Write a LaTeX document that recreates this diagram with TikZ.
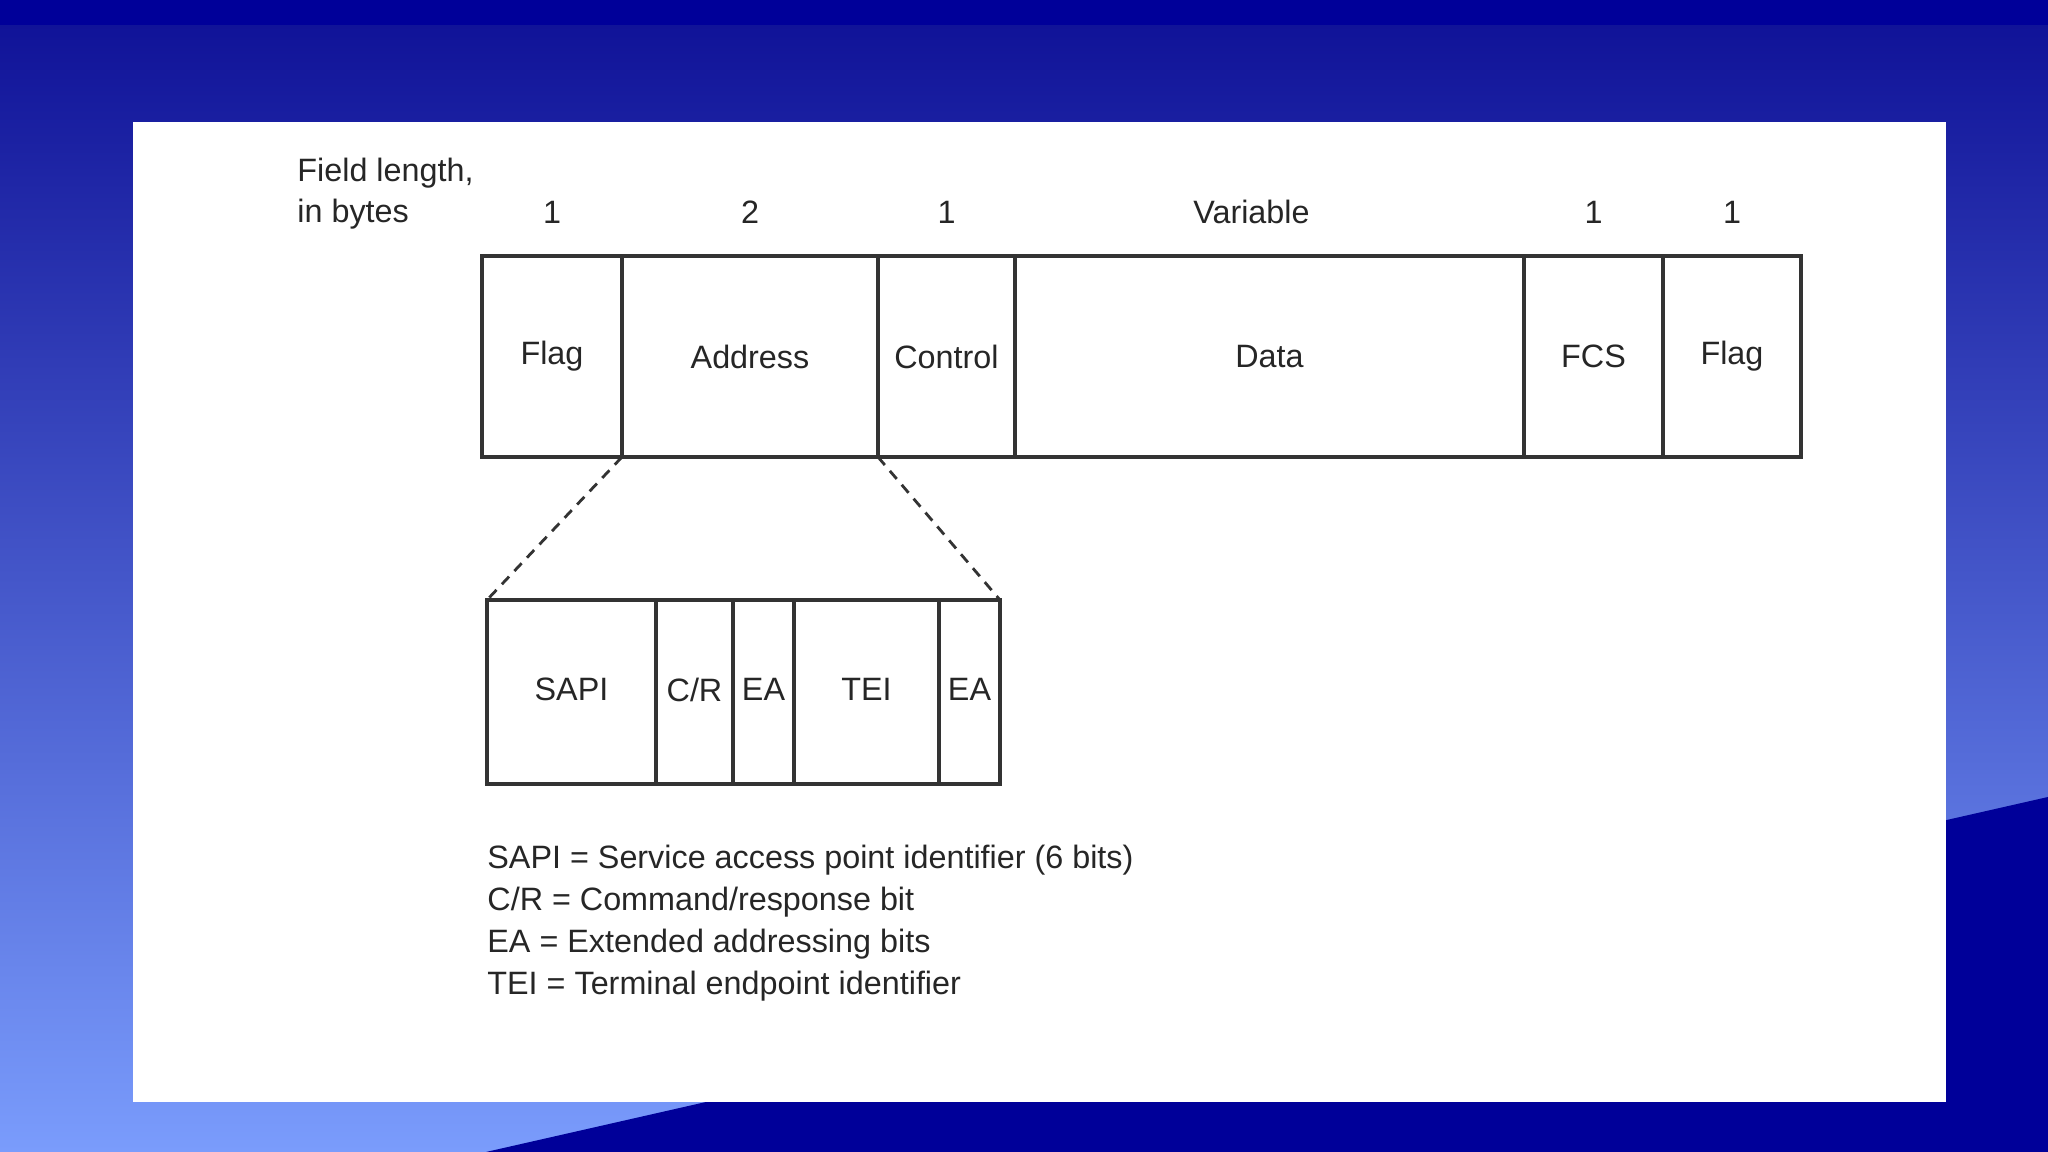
\documentclass[tikz,border=0pt]{standalone}
\usepackage{fontspec}
\setmainfont{Liberation Sans}
\usetikzlibrary{positioning}
\definecolor{slidetop}{RGB}{14,16,150}
\definecolor{slidelow}{RGB}{122,156,252}
\definecolor{slidenavy}{RGB}{0,0,153}
\definecolor{framegray}{RGB}{51,51,51}

\begin{document}
\begin{tikzpicture}[
        field/.style={
                draw=framegray, line width=0.9pt,
                rectangle, inner sep=0pt, outer sep=0pt,
                minimum height=2.01cm
            },
        subfield/.style={field, minimum height=1.84cm, text depth=0.05cm},
        size/.style={inner sep=1pt},
        zoomline/.style={draw=framegray, line width=0.8pt, dash pattern=on 3pt off 2.2pt},
        every node/.style={font=\fontsize{9.2}{11.6}\selectfont, text=black!85}
    ]

    % Slide background
    \shade[top color=slidetop, bottom color=slidelow] (0,0) rectangle (20.48,11.52);
    \fill[slidenavy] (0,11.27) rectangle (20.48,11.52);
    \fill[slidenavy] (4.86,0) -- (20.48,3.55) -- (20.48,0) -- cycle;
    \fill[white] (1.33,0.50) rectangle (19.46,10.30);

    \node[align=left, anchor=west] (fieldlen) at (2.85, 9.58) {Field length,\\in bytes};

    % Frame
    \node[field, minimum width=1.40cm, anchor=north west] (flagA) at (4.82, 8.96) {Flag};
    \node[field, minimum width=2.56cm, right=0pt of flagA] (addr) {Address};
    \node[field, minimum width=1.37cm, right=0pt of addr] (ctrl) {Control};
    \node[field, minimum width=5.09cm, right=0pt of ctrl] (data) {Data};
    \node[field, minimum width=1.39cm, right=0pt of data] (fcs) {FCS};
    \node[field, minimum width=1.38cm, right=0pt of fcs] (flagB) {Flag};

    \node[size, above=0.28cm of flagA] (lenflagA) {1};
    \node[size, above=0.28cm of addr] (lenaddr) {2};
    \node[size, above=0.28cm of ctrl] (lenctrl) {1};
    \node[size, above=0.28cm of data, xshift=-0.18cm] (lendata) {Variable};
    \node[size, above=0.28cm of fcs] (lenfcs) {1};
    \node[size, above=0.28cm of flagB] (lenflagB) {1};

    % Address field
    \node[subfield, minimum width=1.69cm, anchor=north west] (sapi) at (4.87, 5.52) {SAPI};
    \node[subfield, minimum width=0.77cm, right=0pt of sapi] (cr) {C/R};
    \node[subfield, minimum width=0.61cm, right=0pt of cr] (eaA) {EA};
    \node[subfield, minimum width=1.45cm, right=0pt of eaA] (tei) {TEI};
    \node[subfield, minimum width=0.61cm, right=0pt of tei] (eaB) {EA};

    \draw[zoomline] (flagA.south east) -- (sapi.north west);
    \draw[zoomline] (addr.south east) -- (eaB.north east);

    \node[align=left, anchor=west, font=\fontsize{9.2}{11.9}\selectfont] (legend) at (4.75, 2.29) {%
        SAPI = Service access point identifier (6 bits)\\
        C/R = Command/response bit\\
        EA = Extended addressing bits\\
        TEI = Terminal endpoint identifier};

\end{tikzpicture}
\end{document}
